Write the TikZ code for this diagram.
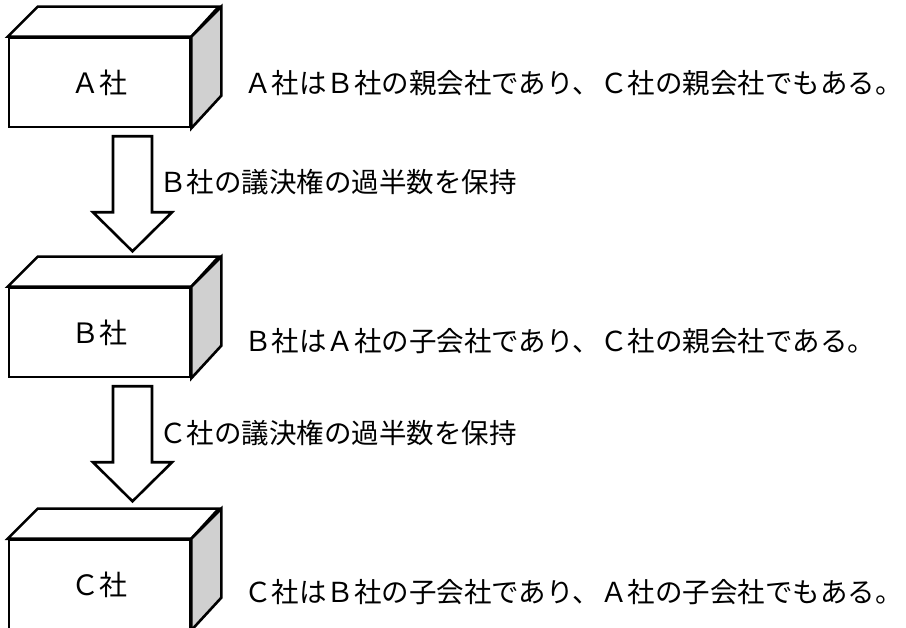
\documentclass[tikz,border=0pt]{standalone}
\usepackage{fontspec}
\setmainfont{Noto Sans CJK JP}
\usetikzlibrary{calc}
\definecolor{sidegray}{RGB}{208,208,208}
\tikzset{
  front/.style={draw=black, line width=2.6pt, fill=white, minimum width=181pt, minimum height=89pt, inner sep=0pt, font=\fontsize{28}{32}\selectfont},
  face/.style={draw=black, line width=2.6pt, line join=miter},
  blockarrow/.style={draw=black, line width=2.6pt, fill=white, line join=miter},
  desc/.style={anchor=west, inner sep=0pt, font=\fontsize{27.5}{32}\selectfont},
}
\begin{document}
\begin{tikzpicture}[x=1pt,y=-1pt]
\useasboundingbox (0,0) rectangle (906,628);
% box A
\node[front] (A) at (99.5,82.5) {Ａ社};
\draw[face, fill=white] (A.north west) -- ++(30,-30) -- ++(181,0) -- (A.north east) -- cycle;
\draw[face, fill=sidegray] (A.north east) -- ++(30,-30) -- ++(0,89) -- (A.south east) -- cycle;
\node[desc] (dA) at (244,83) {Ａ社はＢ社の親会社であり、Ｃ社の親会社でもある。};
% box B
\node[front] (B) at (99.5,332.5) {Ｂ社};
\draw[face, fill=white] (B.north west) -- ++(30,-30) -- ++(181,0) -- (B.north east) -- cycle;
\draw[face, fill=sidegray] (B.north east) -- ++(30,-30) -- ++(0,89) -- (B.south east) -- cycle;
\node[desc] (dB) at (244,341) {Ｂ社はＡ社の子会社であり、Ｃ社の親会社である。};
% box C
\node[front] (C) at (99.5,584.5) {Ｃ社};
\draw[face, fill=white] (C.north west) -- ++(30,-30) -- ++(181,0) -- (C.north east) -- cycle;
\draw[face, fill=sidegray] (C.north east) -- ++(30,-30) -- ++(0,89) -- (C.south east) -- cycle;
\node[desc] (dC) at (244,592) {Ｃ社はＢ社の子会社であり、Ａ社の子会社でもある。};
% arrow A -> B
\coordinate (a1) at ($(A.south)+(33,8)$);
\draw[blockarrow] (a1) ++(-19.5,0) -- ++(39,0) -- ++(0,76) -- ++(20,0) -- ++(-39.5,39) -- ++(-39.5,-39) -- ++(20,0) -- cycle;
\node[desc] (l1) at (159,182) {Ｂ社の議決権の過半数を保持};
% arrow B -> C
\coordinate (a2) at ($(B.south)+(33,8)$);
\draw[blockarrow] (a2) ++(-19.5,0) -- ++(39,0) -- ++(0,76) -- ++(20,0) -- ++(-39.5,39) -- ++(-39.5,-39) -- ++(20,0) -- cycle;
\node[desc] (l2) at (159,433) {Ｃ社の議決権の過半数を保持};
\end{tikzpicture}
\end{document}
